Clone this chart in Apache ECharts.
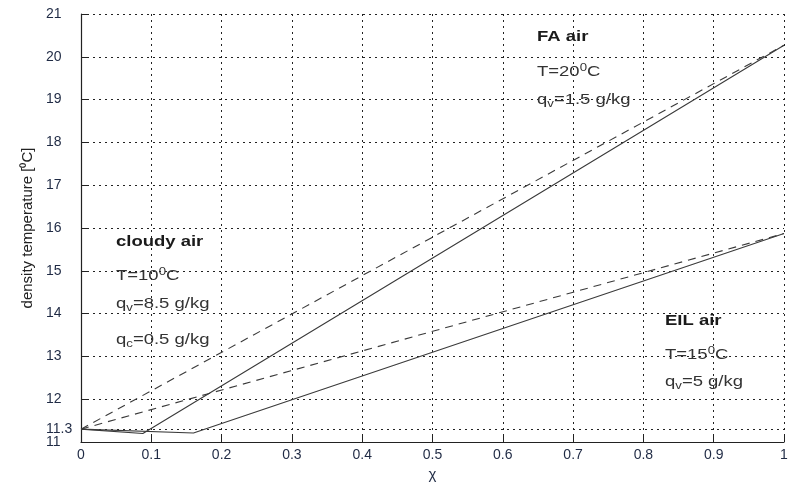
<!DOCTYPE html>
<html>
<head>
<meta charset="utf-8">
<script src="https://cdn.jsdelivr.net/npm/echarts@6/dist/echarts.min.js"></script>
<style>
html,body{margin:0;padding:0;background:#fff;}
#chart{width:791px;height:487px;}
</style>
</head>
<body>
<div id="chart"></div>
<script>
// Mixing lines: density temperature vs. mixing fraction chi
var faSolid = [[0, 11.3], [0.088, 11.2], [1, 20.27]];
var faDashed = [[0, 11.3], [1, 20.27]];
var eilSolid = [[0, 11.3], [0.16, 11.21], [1, 15.87]];
var eilDashed = [[0, 11.3], [1, 15.87]];

var yMin = 11, yMax = 21;
var mixStartTick = [11.3];   // extra labelled level: start temperature of all mixing lines

var labelColor = '#1f2a44';
var gridDots = { color: '#222', width: 1, type: [2, 4] };
var font = 'Liberation Sans, Arial, sans-serif';

var chart = echarts.init(document.getElementById('chart'));

function seriesLine(data, dashed) {
  return {
    type: 'line',
    data: data,
    symbol: 'none',
    lineStyle: { color: '#3a3a3a', width: 1.1, type: dashed ? [8, 6] : 'solid' },
    z: 3
  };
}

var richParts = {
  n: { fontSize: 14, fontFamily: font, fill: '#333' },
  sup: { fontSize: 10, padding: [0, 0, 7, 0], fontFamily: font, fill: '#333' },
  sub: { fontSize: 10, padding: [9, 0, 0, 0], fontFamily: font, fill: '#333' }
};

// annotation line: x, y (pixel centre line), text, bold?
function note(x, y, text, bold) {
  return {
    type: 'text', x: x, y: y, scaleX: 1.32, z: 10,
    style: {
      text: text, x: 0, y: 0,
      font: (bold ? 'bold ' : '') + '14px ' + font,
      fill: bold ? '#1a1a1a' : '#333',
      verticalAlign: 'middle',
      rich: richParts
    }
  };
}

var yLabel = { color: labelColor, fontFamily: font, fontSize: 14, margin: 35, align: 'left' };

chart.setOption({
  animation: false,
  grid: { left: 81, right: 7, top: 14, bottom: 36 },
  xAxis: {
    type: 'value',
    min: 0, max: 1, interval: 0.1,
    name: 'χ', nameLocation: 'middle', nameGap: 25,
    nameTextStyle: { fontFamily: font, fontSize: 15, color: labelColor },
    axisLine: { show: true, lineStyle: { color: '#222', width: 1.2 } },
    axisTick: { show: true, inside: true, length: 6, lineStyle: { color: '#222' } },
    axisLabel: {
      color: labelColor, fontFamily: font, fontSize: 14, margin: 6,
      formatter: function (v) { return String(Math.round(v * 10) / 10); }
    },
    splitLine: { show: true, lineStyle: gridDots }
  },
  yAxis: [
    {
      type: 'value',
      min: yMin, max: yMax, interval: 1,
      name: 'density temperature [⁰C]', nameLocation: 'middle', nameGap: 34,
      nameTextStyle: { fontFamily: font, fontSize: 15, color: '#222' },
      axisLine: { show: true, lineStyle: { color: '#222', width: 1.2 } },
      axisTick: { show: true, inside: true, length: 6, lineStyle: { color: '#222' } },
      axisLabel: yLabel,
      splitLine: { show: true, lineStyle: gridDots }
    },
    {
      type: 'value',
      position: 'left', offset: 0,
      min: yMin, max: yMax,
      axisLine: { show: false },
      axisTick: { show: true, inside: true, length: 6, customValues: mixStartTick, lineStyle: { color: '#222' } },
      axisLabel: Object.assign({ customValues: mixStartTick }, yLabel),
      splitLine: { show: true, lineStyle: gridDots }
    }
  ],
  series: [
    seriesLine(faSolid, false),
    seriesLine(faDashed, true),
    seriesLine(eilSolid, false),
    seriesLine(eilDashed, true)
  ],
  graphic: [
    note(537, 37, 'FA air', true),
    note(537, 72, '{n|T=20}{sup|0}{n|C}'),
    note(537, 100, '{n|q}{sub|v}{n|=1.5 g/kg}'),
    note(116, 242, 'cloudy air', true),
    note(116, 276, '{n|T=10}{sup|0}{n|C}'),
    note(116, 304, '{n|q}{sub|v}{n|=8.5 g/kg}'),
    note(116, 340, '{n|q}{sub|c}{n|=0.5 g/kg}'),
    note(665, 321, 'EIL air', true),
    note(665, 355, '{n|T=15}{sup|0}{n|C}'),
    note(665, 382, '{n|q}{sub|v}{n|=5 g/kg}')
  ]
});
</script>
</body>
</html>
